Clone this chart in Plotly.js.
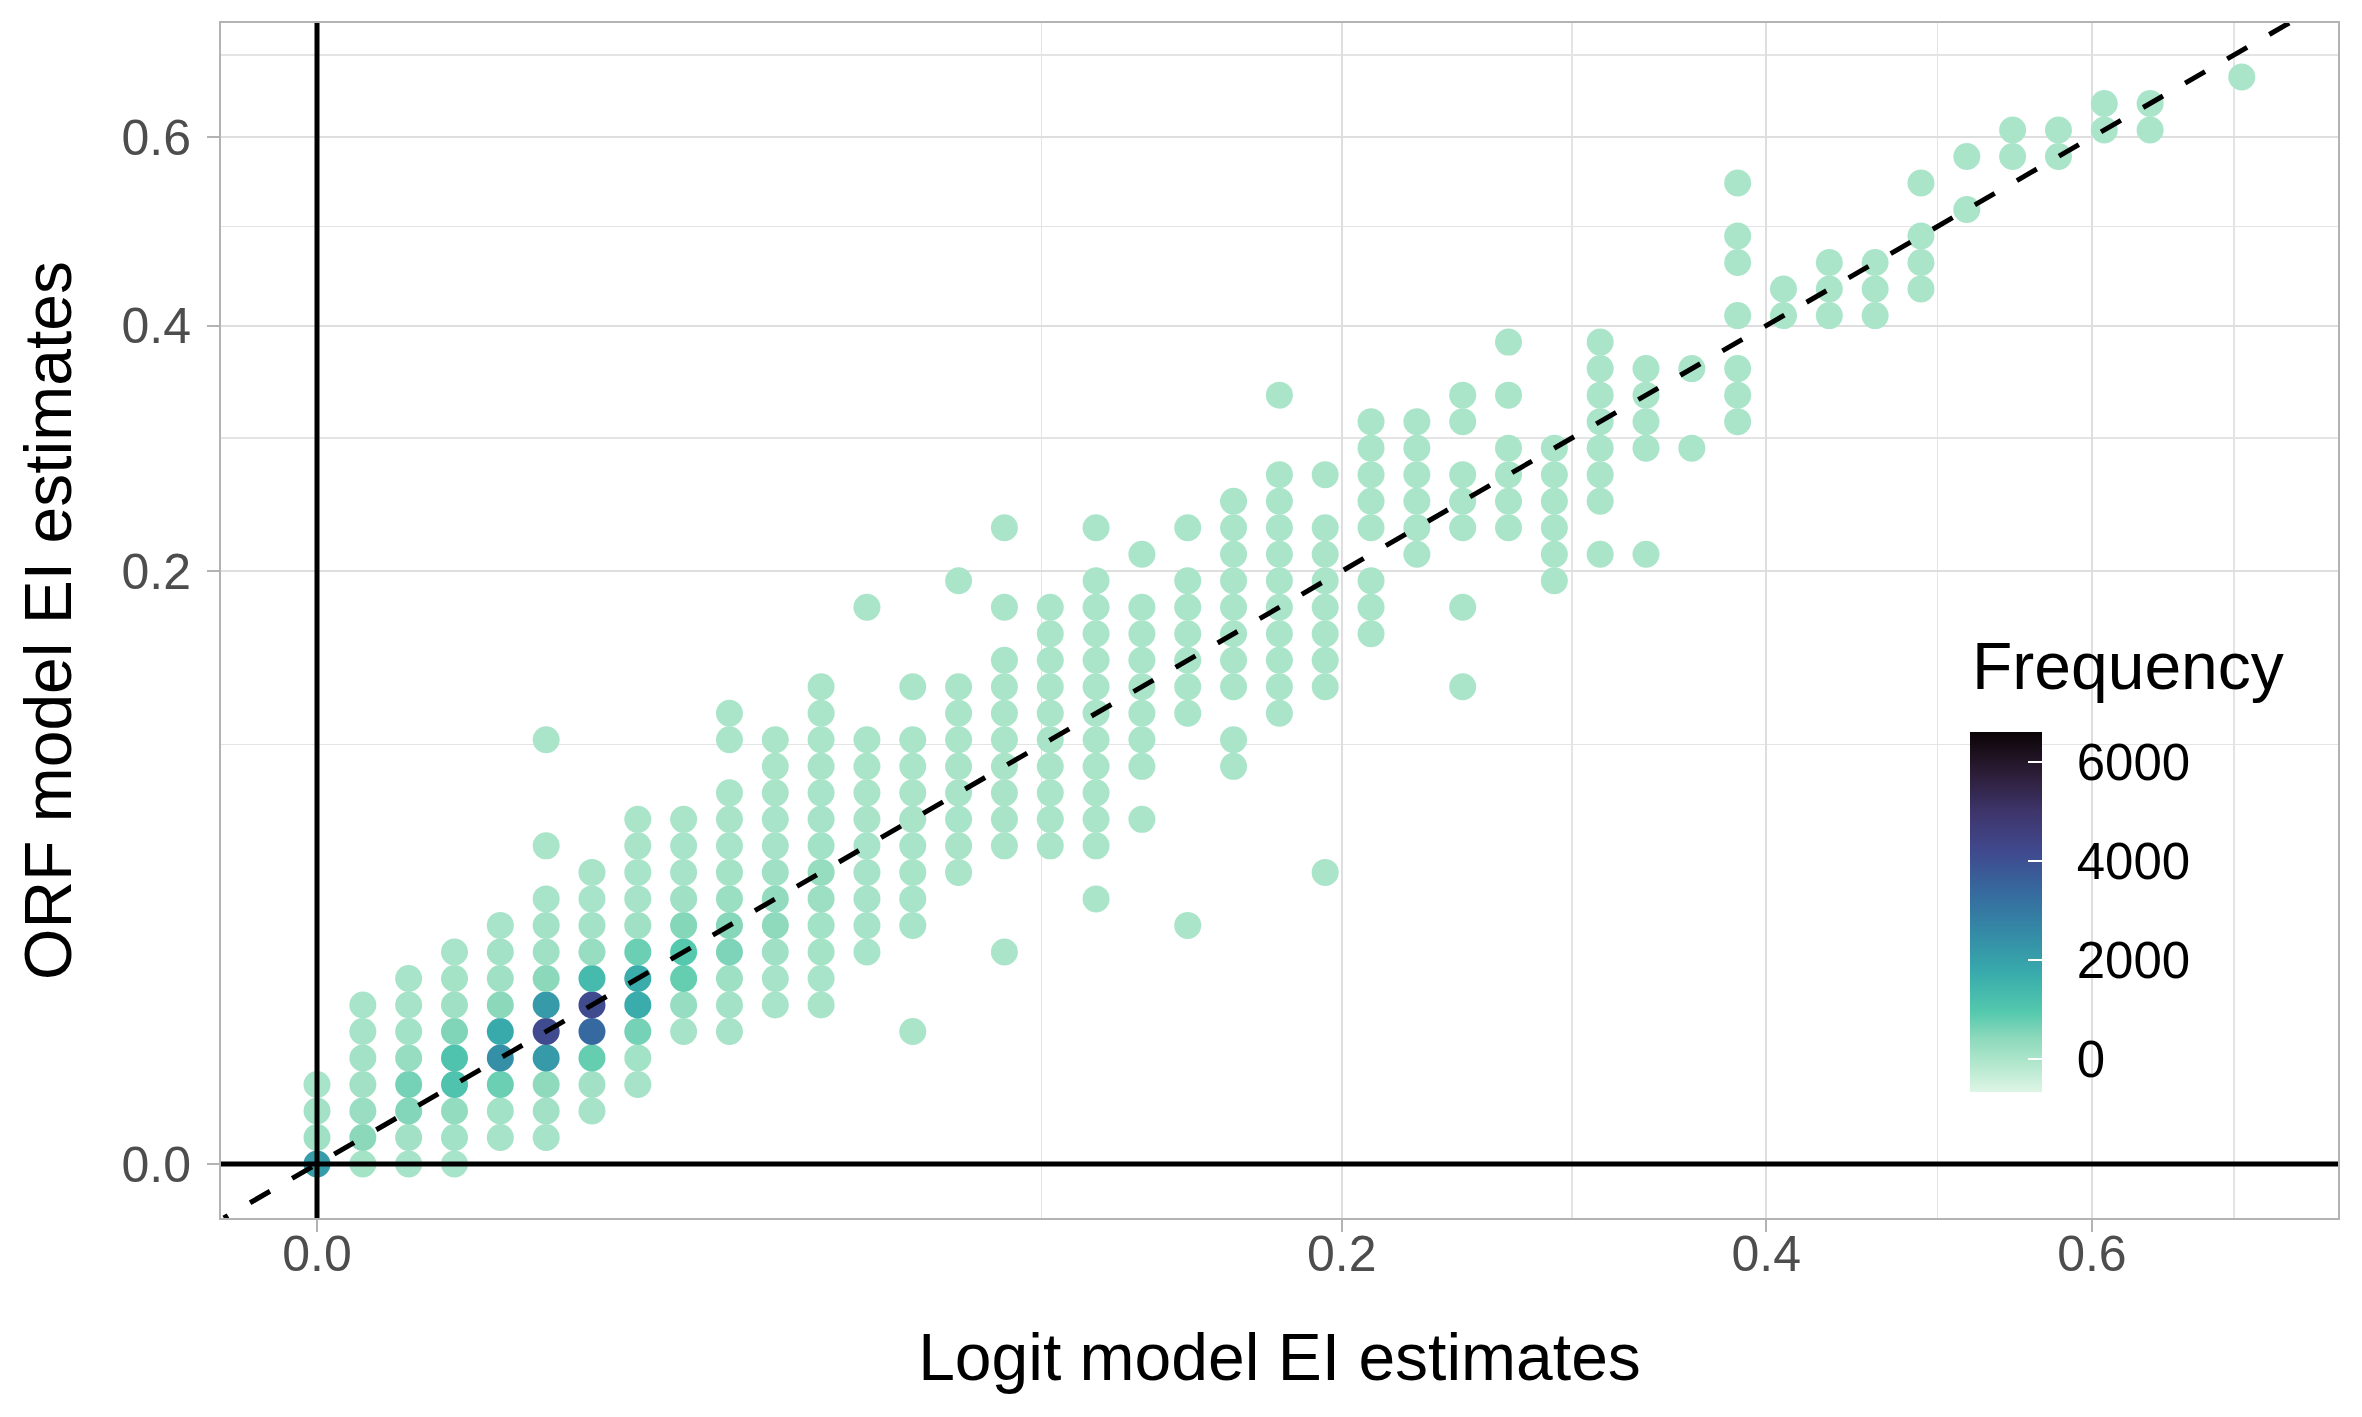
<!DOCTYPE html>
<html lang="en">

<head>
    <meta charset="utf-8">
    <title>Logit vs ORF EI estimates</title>
    <script src="https://cdn.plot.ly/plotly-3.0.1.min.js"></script>
    <style>
        body,
        html {
            margin: 0;
            padding: 0;
            background: white;
        }
    </style>
</head>

<body>
    <div id="plot" style="width:2362px;height:1417px;"></div>

    <script>
        // Both estimates were binned on the square-root scale, 0.02 wide.
        const binWidth = 0.02;

        // Logit bin index of every column of points.
        const logitBins = [0, 1, 2, 3, 4, 5, 6, 7, 8, 9, 10, 11, 12, 13, 14, 15, 16, 17, 18, 19, 20,
            21, 22, 23, 24, 25, 26, 27, 28, 29, 30, 31, 32, 33, 34, 35, 36, 37, 38, 39, 40, 42];

        // ORF bin indices present in each column.
        const orfBins = [
            [0, 1, 2, 3],
            [0, 1, 2, 3, 4, 5, 6],
            [0, 1, 2, 3, 4, 5, 6, 7],
            [0, 1, 2, 3, 4, 5, 6, 7, 8],
            [1, 2, 3, 4, 5, 6, 7, 8, 9],
            [1, 2, 3, 4, 5, 6, 7, 8, 9, 10, 12, 16],
            [2, 3, 4, 5, 6, 7, 8, 9, 10, 11],
            [3, 4, 5, 6, 7, 8, 9, 10, 11, 12, 13],
            [5, 6, 7, 8, 9, 10, 11, 12, 13],
            [5, 6, 7, 8, 9, 10, 11, 12, 13, 14, 16, 17],
            [6, 7, 8, 9, 10, 11, 12, 13, 14, 15, 16],
            [6, 7, 8, 9, 10, 11, 12, 13, 14, 15, 16, 17, 18],
            [8, 9, 10, 11, 12, 13, 14, 15, 16, 21],
            [5, 9, 10, 11, 12, 13, 14, 15, 16, 18],
            [11, 12, 13, 14, 15, 16, 17, 18, 22],
            [8, 12, 13, 14, 15, 16, 17, 18, 19, 21, 24],
            [12, 13, 14, 15, 16, 17, 18, 19, 20, 21],
            [10, 12, 13, 14, 15, 16, 17, 18, 19, 20, 21, 22, 24],
            [13, 15, 16, 17, 18, 19, 20, 21, 23],
            [9, 17, 18, 19, 20, 21, 22, 24],
            [15, 16, 18, 19, 20, 21, 22, 23, 24, 25],
            [17, 18, 19, 20, 21, 22, 23, 24, 25, 26, 29],
            [11, 18, 19, 20, 21, 22, 23, 24, 26],
            [20, 21, 22, 24, 25, 26, 27, 28],
            [23, 24, 25, 26, 27, 28],
            [18, 21, 24, 25, 26, 28, 29],
            [24, 25, 26, 27, 29, 31],
            [22, 23, 24, 25, 26, 27],
            [23, 25, 26, 27, 28, 29, 30, 31],
            [23, 27, 28, 29, 30],
            [27, 30],
            [28, 29, 30, 32, 34, 35, 37],
            [32, 33],
            [32, 33, 34],
            [32, 33, 34],
            [33, 34, 35, 37],
            [36, 38],
            [38, 39],
            [38, 39],
            [39, 40],
            [39, 40],
            [41]
        ];

        // Number of observations in each bin (same layout as orfBins).
        const frequency = [
            [2100, 150, 100, 30],
            [80, 450, 250, 130, 90, 70, 30],
            [60, 130, 520, 650, 280, 120, 70, 30],
            [40, 120, 330, 1100, 1100, 550, 150, 80, 30],
            [60, 120, 750, 2400, 1750, 450, 150, 90, 30],
            [70, 130, 400, 2150, 4150, 2150, 450, 150, 90, 40, 10, 5],
            [70, 130, 800, 3400, 4150, 1350, 280, 90, 40, 20],
            [60, 120, 650, 1700, 1700, 750, 150, 60, 40, 25, 10],
            [60, 280, 800, 950, 500, 150, 60, 30, 10],
            [50, 90, 180, 580, 480, 220, 80, 40, 20, 10, 5, 5],
            [40, 70, 150, 400, 350, 150, 60, 40, 20, 10, 5],
            [20, 40, 80, 120, 200, 300, 120, 60, 30, 20, 10, 5, 3],
            [40, 60, 70, 60, 40, 25, 15, 10, 5, 1],
            [1, 30, 40, 45, 35, 25, 15, 10, 6, 2],
            [15, 25, 30, 25, 20, 12, 8, 5, 1],
            [1, 12, 18, 22, 20, 15, 10, 6, 3, 2, 1],
            [8, 12, 15, 18, 16, 12, 8, 5, 3, 2],
            [1, 5, 8, 12, 14, 14, 12, 9, 6, 4, 3, 2, 1],
            [3, 6, 8, 9, 8, 6, 4, 2, 1],
            [1, 5, 6, 6, 5, 3, 2, 1],
            [1, 2, 3, 4, 5, 5, 4, 3, 2, 1],
            [2, 3, 4, 4, 5, 4, 3, 3, 2, 1, 1],
            [1, 2, 3, 3, 4, 3, 2, 2, 1],
            [1, 2, 2, 3, 2, 2, 1, 1],
            [2, 2, 3, 2, 2, 1],
            [1, 1, 2, 2, 2, 1, 1],
            [1, 2, 2, 1, 1, 1],
            [1, 1, 2, 2, 1, 1],
            [1, 1, 1, 2, 2, 1, 1, 1],
            [1, 1, 1, 1, 1],
            [1, 1],
            [1, 1, 1, 1, 1, 1, 1],
            [1, 1],
            [1, 1, 1],
            [1, 1, 1],
            [1, 1, 1, 1],
            [1, 1],
            [1, 1],
            [1, 1],
            [1, 1],
            [1, 1],
            [1]
        ];

        const majorBreaks = [0, 0.2, 0.4, 0.6];
        const tickLabels = ['0.0', '0.2', '0.4', '0.6'];
        const minorBreaks = [0.1, 0.3, 0.5, 0.7];
        const freqTicks = [0, 2000, 4000, 6000];
        const freqLimits = [-660, 6600];

        // reversed "mako", light end first
        const makoStops = [0, 0.09, 0.15, 0.222, 0.333, 0.444, 0.556, 0.667, 0.778, 0.889, 1];
        const makoColors = ['#DEF5E5', '#ABE5CA', '#8DD9BC', '#54C9AD', '#38AAAC', '#348AA6',
            '#366A9F', '#40498E', '#3E356B', '#2B1C35', '#0B0405'];

        const font = 'Liberation Sans, Arial, sans-serif';

        // sqrt axis: plotly has none, so positions go through this
        const sq = v => Math.sign(v) * Math.sqrt(Math.abs(v));

        const xs = [], ys = [], cs = [];
        logitBins.forEach(function (b, k) {
            orfBins[k].forEach(function (r, m) {
                xs.push(Math.pow(b * binWidth, 2));
                ys.push(Math.pow(r * binWidth, 2));
                cs.push(frequency[k][m]);
            });
        });

        const xRange = [-0.0419, 0.882];
        const yRange = [-0.0407, 0.8607];

        const colorscale = makoStops.map((p, i) => [p, makoColors[i]]);

        // shared placement of the colour bar
        function barPlacement(extra) {
            return Object.assign({
                x: 0.8148,
                xanchor: 'left',
                y: 0.087,
                yanchor: 'bottom',
                lenmode: 'pixels',
                len: 404,
                thicknessmode: 'pixels',
                thickness: 72,
                xpad: 24,
                ypad: 22,
                bgcolor: 'rgba(0,0,0,0)',
                outlinewidth: 0,
                tickvals: freqTicks
            }, extra);
        }

        const points = {
            x: xs.map(sq),
            y: ys.map(sq),
            type: 'scatter',
            mode: 'markers',
            hoverinfo: 'skip',
            marker: {
                size: 27,
                color: cs,
                cmin: freqLimits[0],
                cmax: freqLimits[1],
                colorscale: colorscale,
                line: { width: 0 },
                showscale: true,
                colorbar: barPlacement({
                    ticks: 'outside',
                    ticklen: 25,
                    tickwidth: 1,
                    tickcolor: 'rgba(0,0,0,0)',
                    tickfont: { family: font, size: 51, color: 'black' }
                })
            },
            showlegend: false
        };

        // same bar again on top, carrying only the white inner ticks
        const barTicks = {
            x: [null],
            y: [null],
            type: 'scatter',
            mode: 'markers',
            hoverinfo: 'skip',
            marker: {
                color: [freqLimits[0]],
                cmin: freqLimits[0],
                cmax: freqLimits[1],
                colorscale: colorscale,
                showscale: true,
                colorbar: barPlacement({
                    ticks: 'inside',
                    ticklen: 14,
                    tickwidth: 2,
                    tickcolor: 'white',
                    showticklabels: false
                })
            },
            showlegend: false
        };

        // y = x reference line, drawn from the top-right so the dashes
        // start where they do in the original
        const lineStart = Math.min(xRange[1], yRange[1]);
        const lineEnd = Math.max(xRange[0], yRange[0]);
        const identity = {
            x: [lineStart, lineEnd],
            y: [lineStart, lineEnd],
            type: 'scatter',
            mode: 'lines',
            hoverinfo: 'skip',
            line: { color: 'black', width: 5, dash: '23px,25.6px' },
            showlegend: false
        };

        function axis(title, range, standoff, labelShift) {
            return {
                range: range,
                tickmode: 'array',
                tickvals: majorBreaks.map(sq),
                ticktext: tickLabels,
                showgrid: true,
                gridcolor: '#dedede',
                gridwidth: 2,
                minor: {
                    tickmode: 'array',
                    tickvals: minorBreaks.map(sq),
                    showgrid: true,
                    gridcolor: '#e4e4e4',
                    gridwidth: 1.3,
                    ticks: ''
                },
                zeroline: false,
                showline: true,
                mirror: true,
                linecolor: '#b3b3b3',
                linewidth: 2,
                ticks: 'outside',
                ticklen: 12,
                tickwidth: 2,
                tickcolor: '#b3b3b3',
                ticklabelstandoff: labelShift,
                tickfont: { family: font, size: 50, color: '#4d4d4d' },
                title: { text: title, font: { family: font, size: 66, color: 'black' }, standoff: standoff },
                automargin: false
            };
        }

        const layout = {
            width: 2362,
            height: 1417,
            margin: { l: 221, r: 24, t: 23, b: 199 },
            paper_bgcolor: 'white',
            plot_bgcolor: 'white',
            font: { family: font },
            xaxis: axis('Logit model EI estimates', xRange, 53, -21),
            yaxis: axis('ORF model EI estimates', yRange, 28, 6),
            annotations: [{
                text: 'Frequency',
                xref: 'paper', yref: 'paper',
                x: 0.8262, xanchor: 'left',
                y: 0.4293, yanchor: 'bottom',
                showarrow: false,
                font: { family: font, size: 66, color: 'black' }
            }],
            shapes: [
                // legend background hides the grid behind it
                { type: 'rect', xref: 'paper', yref: 'paper', x0: 0.8153, x1: 0.9854, y0: 0.0895, y1: 0.5096, layer: 'between', fillcolor: 'white', line: { width: 0 } },
                { type: 'line', xref: 'x', yref: 'paper', x0: 0, x1: 0, y0: 0, y1: 1, layer: 'above', line: { color: 'black', width: 5 } },
                { type: 'line', xref: 'paper', yref: 'y', x0: 0, x1: 1, y0: 0, y1: 0, layer: 'above', line: { color: 'black', width: 5 } }
            ]
        };

        Plotly.newPlot('plot', [points, identity, barTicks], layout, { staticPlot: true });
    </script>

</body>

</html>
